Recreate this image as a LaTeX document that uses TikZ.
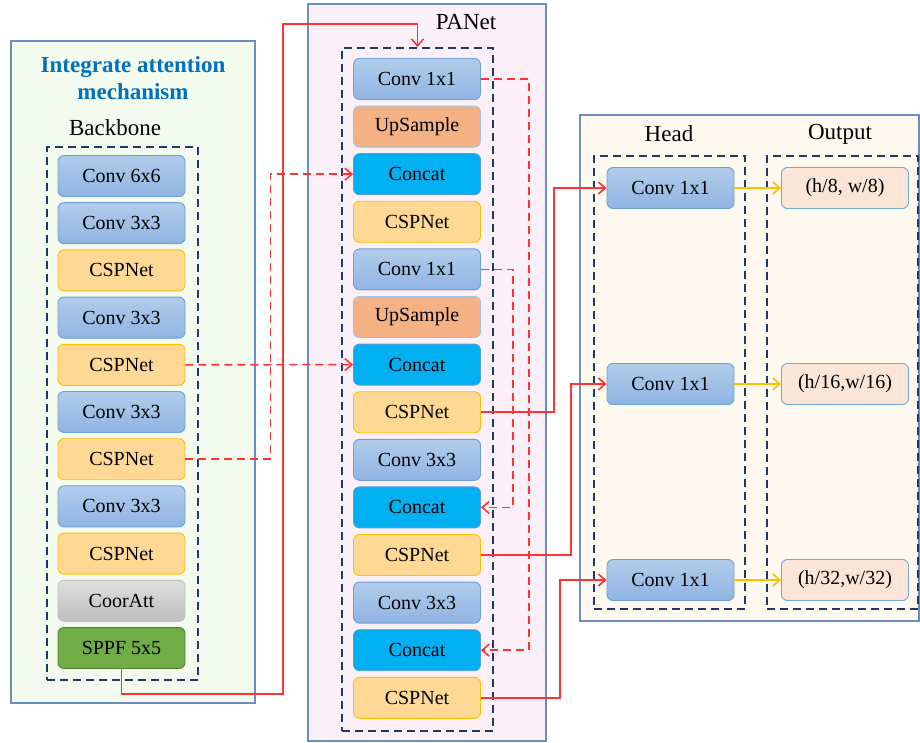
\documentclass[tikz,border=0pt]{standalone}
\usepackage{fontspec}
\setmainfont{Liberation Serif}
\usetikzlibrary{arrows.meta}

\definecolor{frameblue}{HTML}{6C8EBF}
\definecolor{navy}{HTML}{1F3864}
\definecolor{linkred}{HTML}{FF3333}
\definecolor{linkyellow}{HTML}{FFC000}
\definecolor{titleblue}{HTML}{0070C0}

\tikzset{
    blk/.style={draw, rounded corners=6pt, minimum width=127pt, minimum height=41pt,
        line width=0.9pt, font=\fontsize{20}{24}\selectfont, inner sep=0pt},
    conv/.style={blk, draw={rgb,255:red,110;green,159;blue,214}, top color={rgb,255:red,178;green,204;blue,235},
        bottom color={rgb,255:red,143;green,180;blue,226}},
    csp/.style={blk, draw=linkyellow, fill={rgb,255:red,255;green,217;blue,148}},
    upsmp/.style={blk, draw={rgb,255:red,157;green,195;blue,230}, fill={rgb,255:red,244;green,177;blue,131}},
    concat/.style={blk, draw={rgb,255:red,91;green,155;blue,213}, fill={rgb,255:red,0;green,176;blue,240}},
    coor/.style={blk, draw={rgb,255:red,191;green,191;blue,191}, top color={rgb,255:red,222;green,222;blue,222},
        bottom color={rgb,255:red,190;green,190;blue,190}},
    sppf/.style={blk, draw={rgb,255:red,84;green,130;blue,53}, fill={rgb,255:red,112;green,173;blue,71}},
    outbox/.style={blk, draw={rgb,255:red,111;green,168;blue,220}, fill={rgb,255:red,251;green,229;blue,214}},
    frame/.style={draw=frameblue, line width=1.4pt},
    dbox/.style={draw=navy, line width=1.8pt, dash pattern=on 8pt off 5pt, inner sep=0pt},
    label/.style={font=\fontsize{23}{27}\selectfont},
    redline/.style={draw=linkred, line width=1.6pt, -{Straight Barb[length=7pt,width=12pt]}},
    reddash/.style={redline, dash pattern=on 8pt off 5pt},
    yline/.style={draw=linkyellow, line width=1.6pt, -{Straight Barb[length=7pt,width=12pt]}}
}

\begin{document}
\begin{tikzpicture}[x=1pt, y={(0,-1pt)}]
    \useasboundingbox (0,0) rectangle (920,743);

    % outer frames
    \draw[frame, fill={rgb,255:red,243;green,251;blue,238}] (11,41) rectangle (255,703);
    \draw[frame, fill={rgb,255:red,251;green,240;blue,248}] (308,4) rectangle (546,741);
    \draw[frame, fill={rgb,255:red,254;green,249;blue,238}] (580,115) rectangle (919,621);

    % titles
    \node[label, font=\fontsize{23}{27}\selectfont\bfseries, text=titleblue, align=center] (title) at (133,78)
        {Integrate attention\\mechanism};
    \node[label] (bbname) at (115,128) {Backbone};
    \node[label] (pnname) at (466,22) {PANet};
    \node[label] (hdname) at (669,134) {Head};
    \node[label] (otname) at (840,134) {Output};

    % dashed groups
    \node[dbox, minimum width=151pt, minimum height=533pt] (bbdash) at (122.5,413.5) {};
    \node[dbox, minimum width=151pt, minimum height=683pt] (pndash) at (417.5,389.5) {};
    \node[dbox, minimum width=151pt, minimum height=453pt] (hddash) at (669.5,382.5) {};
    \node[dbox, minimum width=151pt, minimum height=453pt] (otdash) at (842.5,382.5) {};

    % backbone
    \foreach \t/\s [count=\i] in {Conv 6x6/conv, Conv 3x3/conv, CSPNet/csp, Conv 3x3/conv,
        CSPNet/csp, Conv 3x3/conv, CSPNet/csp, Conv 3x3/conv, CSPNet/csp, CoorAtt/coor, SPPF 5x5/sppf}
        \node[\s] (b\i) at (121.5,{176+47.2*(\i-1)}) {\t};

    % PANet
    \foreach \t/\s [count=\i] in {Conv 1x1/conv, UpSample/upsmp, Concat/concat, CSPNet/csp,
        Conv 1x1/conv, UpSample/upsmp, Concat/concat, CSPNet/csp, Conv 3x3/conv, Concat/concat,
        CSPNet/csp, Conv 3x3/conv, Concat/concat, CSPNet/csp}
        \node[\s] (p\i) at (417,{79+47.6*(\i-1)}) {\t};

    % head and output
    \foreach \y [count=\i] in {188, 384, 580}
        \node[conv] (h\i) at (670.5,\y) {Conv 1x1};
    \node[outbox] (o1) at (845,188) {(h/8, w/8)};
    \node[outbox] (o2) at (845,384) {(h/16,w/16)};
    \node[outbox] (o3) at (845,580) {(h/32,w/32)};

    % links
    \draw[redline] (b11.south) -- ++(0,25) -| (283,24) -| (pndash.north);
    \draw[reddash] (b5.east) -- (p7.west);
    \draw[reddash] (b7.east) -- ++(85,0) |- (p3.west);
    \draw[reddash] (p1.east) -- ++(48,0) |- (p13.east);
    \draw[reddash] (p5.east) -- ++(32,0) |- (p10.east);
    \draw[redline] (p8.east) -- ++(73,0) |- (h1.west);
    \draw[redline] (p11.east) -- ++(90,0) |- (h2.west);
    \draw[redline] (p14.east) -- ++(79,0) |- (h3.west);
    \foreach \i in {1,2,3}
        \draw[yline] (h\i.east) -- (o\i.west);
\end{tikzpicture}
\end{document}
